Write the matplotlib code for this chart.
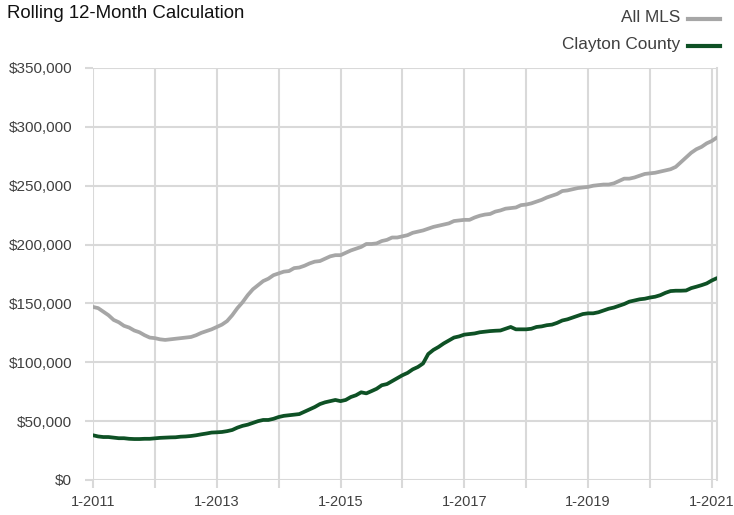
import matplotlib
matplotlib.use("Agg")
import matplotlib.pyplot as plt
from matplotlib.lines import Line2D
import numpy as np

# ---- data (monthly, Jan 2011 .. Feb 2021), values in $ thousands ----
all_mls = [
    147, 146, 143, 140, 136, 134, 131, 129.5, 127, 125.5, 123, 121,
    120.5, 119.5, 119, 119.5, 120, 120.5, 121, 121.5, 123, 125, 126.5, 128,
    130, 132, 135, 140, 146, 151, 157, 162, 165.5, 169, 171, 174,
    175.5, 177, 177.5, 180, 180.5, 182, 184, 185.5, 186, 188, 190, 191,
    191, 193, 195, 196.5, 198, 200.5, 200.5, 201, 203, 204, 206, 206,
    207, 208, 210, 211, 212, 213.5, 215, 216, 217, 218, 220, 220.5,
    221, 221, 223, 224.5, 225.5, 226, 228, 229, 230.5, 231, 231.5, 233.5,
    234, 235, 236.5, 238, 240, 241.5, 243, 245.5, 246, 247, 248, 248.5,
    249, 250, 250.5, 251, 251, 252, 254, 256, 256, 257, 258.5, 260,
    260.5, 261, 262, 263, 264, 266, 270, 274, 278, 281, 283, 286,
    288, 291,
]
clayton = [
    38, 37, 36.5, 36.5, 36, 35.5, 35.5, 35, 34.8, 34.8, 35, 35,
    35.4, 35.8, 36, 36.2, 36.3, 36.8, 37, 37.4, 38, 38.8, 39.5, 40.3,
    40.5, 40.8, 41.5, 42.5, 44.5, 46, 47, 48.5, 50, 51, 51, 52,
    53.5, 54.5, 55, 55.5, 56, 58, 60, 62, 64.5, 66, 67, 68,
    67, 68, 70.5, 72, 74.5, 73.6, 75.5, 77.5, 80.5, 81.5, 84, 86.5,
    89, 91, 94, 96, 99, 107, 110.5, 113, 116, 118.5, 121, 122,
    123.5, 124, 124.5, 125.5, 126, 126.5, 126.8, 127, 128.5, 130, 128, 128,
    128, 128.5, 130, 130.5, 131.5, 132, 133.5, 135.5, 136.5, 138, 139.5, 141,
    141.6, 141.6, 142.5, 144, 145.5, 146.5, 148, 149.5, 151.5, 152.5, 153.5, 154,
    155, 155.7, 157, 159, 160.5, 160.8, 160.8, 161, 163, 164.2, 165.5, 167,
    169.5, 171.5,
]
series_names = ["All MLS", "Clayton County"]
title = "Rolling 12-Month Calculation"
x_tick_labels = ["1-2011", "", "1-2013", "", "1-2015", "", "1-2017", "", "1-2019", "", "1-2021"]
y_ticks = [0, 50000, 100000, 150000, 200000, 250000, 300000, 350000]

# ---- style ----
FONT = ["Liberation Sans", "DejaVu Sans"]
plt.rcParams["font.family"] = FONT
GRAY = "#A6A6A6"
GREEN = "#0E5125"
GRID = "#D9D9D9"
TXT = "#404040"

fig = plt.figure(figsize=(7.34, 5.15), dpi=100)
ax = fig.add_axes([93 / 734, 35 / 515, 624 / 734, 412 / 515])

x = np.arange(len(all_mls))
ax.plot(x, np.array(all_mls) * 1000, color=GRAY, lw=2.7, solid_capstyle="round", zorder=3)
ax.plot(x, np.array(clayton) * 1000, color=GREEN, lw=2.7, solid_capstyle="round", zorder=4)

ax.set_xlim(0, len(all_mls) - 1)
ax.set_ylim(0, 350000)
ax.set_xticks(np.arange(0, 121, 12))
ax.set_xticklabels(x_tick_labels)
ax.set_yticks(y_ticks)
ax.set_yticklabels(["${:,.0f}".format(v) for v in y_ticks])

ax.grid(True, color=GRID, lw=1.5, zorder=0)
ax.set_axisbelow(True)
for s in ["top", "left", "bottom"]:
    ax.spines[s].set_visible(False)
ax.spines["right"].set_color(GRID)
ax.spines["right"].set_linewidth(1.5)
ax.tick_params(axis="both", length=6, width=1.5, color=GRID, labelcolor=TXT)
ax.tick_params(axis="y", pad=9, labelsize=11)
ax.tick_params(axis="x", pad=5, labelsize=10.5)

fig.text(7 / 734, 1 - 13 / 515, title, fontsize=13.4, color="#111111", va="center", ha="left")

# legend (top right)
for i, (name, col) in enumerate(zip(series_names, [GRAY, GREEN])):
    yy = 1 - (18 + 27 * i) / 515
    fig.text(680 / 734, yy, name, fontsize=12.4, color=TXT, ha="right", va="center")
    fig.add_artist(Line2D([688 / 734, 720 / 734], [yy - 0.002, yy - 0.002], color=col, lw=3,
                          transform=fig.transFigure))

fig.savefig("out.png", dpi=100)
